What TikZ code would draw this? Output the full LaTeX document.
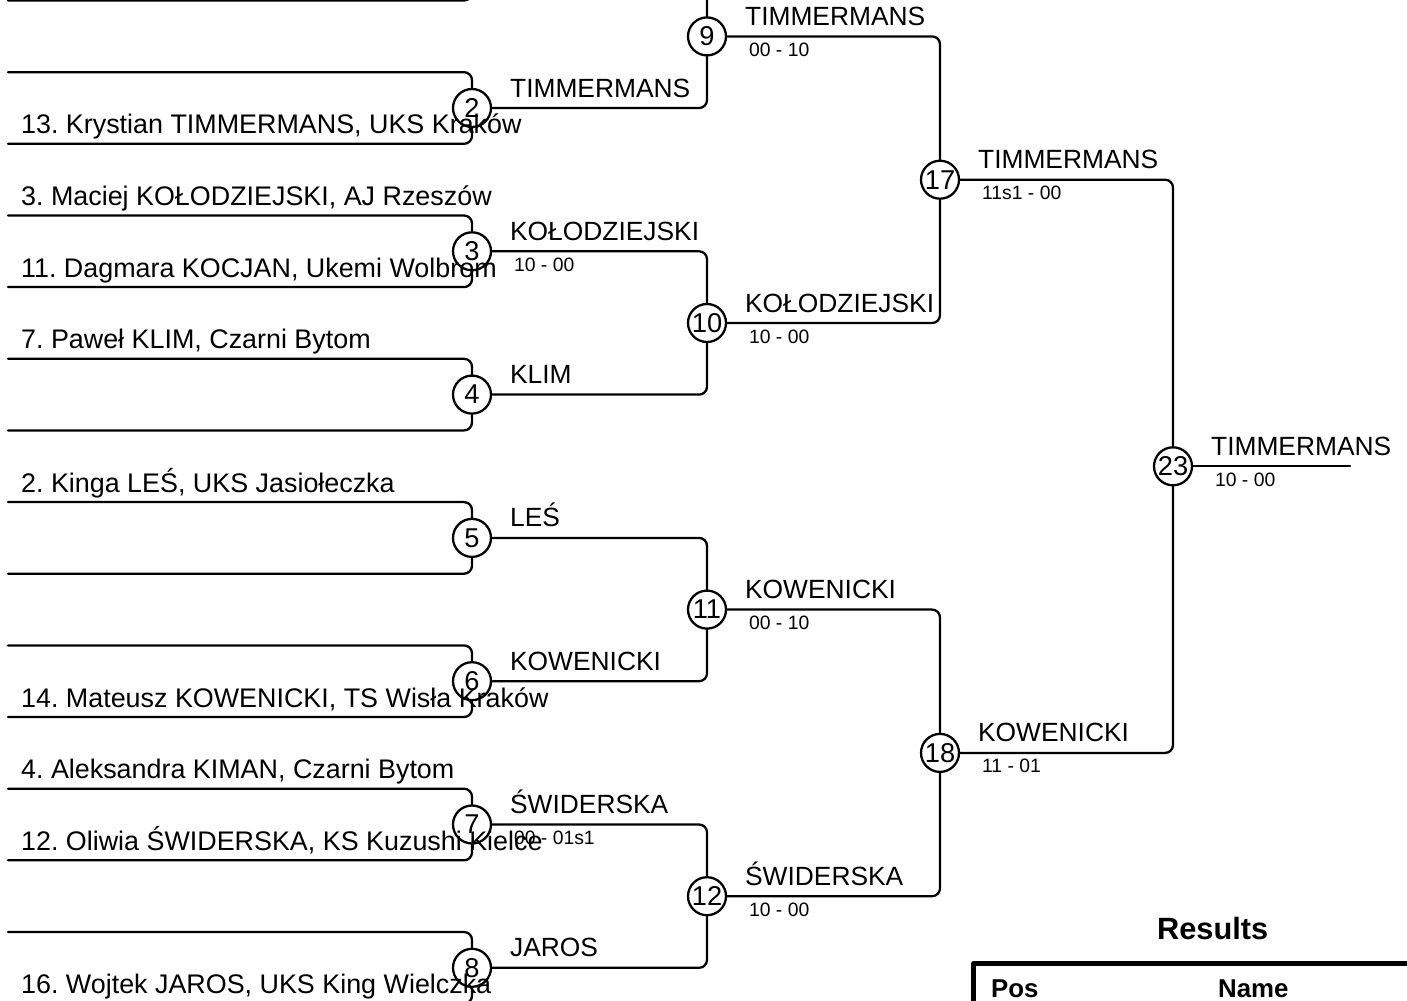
\documentclass[tikz,border=0pt]{standalone}
\usepackage{fontspec}
\setmainfont{Liberation Sans}

\begin{document}
\frenchspacing
\begin{tikzpicture}[x=0.02cm, y=-0.02cm, line width=1.3pt, line cap=round, line join=round,
  bout/.style={draw, circle, minimum size=0.76cm, inner sep=0pt, font=\fontsize{15.5}{16}\selectfont},
  wire/.style={rounded corners=4.5pt},
  player/.style={anchor=base west, inner sep=0pt, font=\fontsize{15.3}{18}\selectfont},
  winner/.style={anchor=base west, inner sep=0pt, font=\fontsize{15}{18}\selectfont},
  score/.style={anchor=base west, inner sep=0pt, font=\fontsize{11}{13}\selectfont},
  heading/.style={anchor=base west, inner sep=0pt, font=\bfseries\fontsize{17.5}{20}\selectfont},
  colhead/.style={anchor=base west, inner sep=0pt, font=\bfseries\fontsize{14.7}{17}\selectfont}]
\useasboundingbox (0,0) rectangle (1407,1001);
\clip (0,0) rectangle (1407,1001);

\coordinate (m1) at (472,-35.3);
\node[bout] (m2) at (472,108) {2};
\node[bout] (m3) at (472,251.3) {3};
\node[bout] (m4) at (472,394.6) {4};
\node[bout] (m5) at (472,537.9) {5};
\node[bout] (m6) at (472,681.2) {6};
\node[bout] (m7) at (472,824.5) {7};
\node[bout] (m8) at (472,967.8) {8};
\node[bout] (m9) at (707,36.4) {9};
\node[bout] (m10) at (707,323) {10};
\node[bout] (m11) at (707,609.6) {11};
\node[bout] (m12) at (707,896.2) {12};
\node[bout] (m17) at (940,179.7) {17};
\node[bout] (m18) at (940,752.9) {18};
\node[bout] (m23) at (1173,466.3) {23};

\coordinate (lo1) at (8,0.5);
\coordinate (hi2) at (8,72.2);
\coordinate (lo2) at (8,143.8);
\coordinate (hi3) at (8,215.5);
\coordinate (lo3) at (8,287.1);
\coordinate (hi4) at (8,358.8);
\coordinate (lo4) at (8,430.4);
\coordinate (hi5) at (8,502.1);
\coordinate (lo5) at (8,573.7);
\coordinate (hi6) at (8,645.4);
\coordinate (lo6) at (8,717);
\coordinate (hi7) at (8,788.7);
\coordinate (lo7) at (8,860.3);
\coordinate (hi8) at (8,932);
\coordinate (lo8) at (8,1003.6);
\coordinate (champ) at (1350,466.3);

\draw[wire] (lo1) -| (m1);
\draw[wire] (hi2) -| (m2.north);
\draw[wire] (lo2) -| (m2.south);
\draw[wire] (hi3) -| (m3.north);
\draw[wire] (lo3) -| (m3.south);
\draw[wire] (hi4) -| (m4.north);
\draw[wire] (lo4) -| (m4.south);
\draw[wire] (hi5) -| (m5.north);
\draw[wire] (lo5) -| (m5.south);
\draw[wire] (hi6) -| (m6.north);
\draw[wire] (lo6) -| (m6.south);
\draw[wire] (hi7) -| (m7.north);
\draw[wire] (lo7) -| (m7.south);
\draw[wire] (hi8) -| (m8.north);
\draw[wire] (lo8) -| (m8.south);

\draw[wire] (m1) -| (m9.north);
\draw[wire] (m2.east) -| (m9.south);
\draw[wire] (m3.east) -| (m10.north);
\draw[wire] (m4.east) -| (m10.south);
\draw[wire] (m5.east) -| (m11.north);
\draw[wire] (m6.east) -| (m11.south);
\draw[wire] (m7.east) -| (m12.north);
\draw[wire] (m8.east) -| (m12.south);
\draw[wire] (m9.east) -| (m17.north);
\draw[wire] (m10.east) -| (m17.south);
\draw[wire] (m11.east) -| (m18.north);
\draw[wire] (m12.east) -| (m18.south);
\draw[wire] (m17.east) -| (m23.north);
\draw[wire] (m18.east) -| (m23.south);
\draw (m23.east) -- (champ);

\node[player] (p13) at (20,133.8) {13. Krystian TIMMERMANS, UKS Kraków};
\node[player] (p3) at (20,205.5) {3. Maciej KOŁODZIEJSKI, AJ Rzeszów};
\node[player] (p11) at (20,277.1) {11. Dagmara KOCJAN, Ukemi Wolbrom};
\node[player] (p7) at (20,348.8) {7. Paweł KLIM, Czarni Bytom};
\node[player] (p2) at (20,492.1) {2. Kinga LEŚ, UKS Jasiołeczka};
\node[player] (p14) at (20,707) {14. Mateusz KOWENICKI, TS Wisła Kraków};
\node[player] (p4) at (20,778.7) {4. Aleksandra KIMAN, Czarni Bytom};
\node[player] (p12) at (20,850.3) {12. Oliwia ŚWIDERSKA, KS Kuzushi Kielce};
\node[player] (p16) at (20,993.6) {16. Wojtek JAROS, UKS King Wielczka};

\node[winner] (w2) at ([shift={(37,-11)}]m2.center) {TIMMERMANS};
\node[winner] (w3) at ([shift={(37,-11)}]m3.center) {KOŁODZIEJSKI};
\node[score] (s3) at ([shift={(41,20)}]m3.center) {10 - 00};
\node[winner] (w4) at ([shift={(37,-11)}]m4.center) {KLIM};
\node[winner] (w5) at ([shift={(37,-11)}]m5.center) {LEŚ};
\node[winner] (w6) at ([shift={(37,-11)}]m6.center) {KOWENICKI};
\node[winner] (w7) at ([shift={(37,-11)}]m7.center) {ŚWIDERSKA};
\node[score] (s7) at ([shift={(41,20)}]m7.center) {00 - 01s1};
\node[winner] (w8) at ([shift={(37,-11)}]m8.center) {JAROS};
\node[winner] (w9) at ([shift={(37,-11)}]m9.center) {TIMMERMANS};
\node[score] (s9) at ([shift={(41,20)}]m9.center) {00 - 10};
\node[winner] (w10) at ([shift={(37,-11)}]m10.center) {KOŁODZIEJSKI};
\node[score] (s10) at ([shift={(41,20)}]m10.center) {10 - 00};
\node[winner] (w11) at ([shift={(37,-11)}]m11.center) {KOWENICKI};
\node[score] (s11) at ([shift={(41,20)}]m11.center) {00 - 10};
\node[winner] (w12) at ([shift={(37,-11)}]m12.center) {ŚWIDERSKA};
\node[score] (s12) at ([shift={(41,20)}]m12.center) {10 - 00};
\node[winner] (w17) at ([shift={(37,-11)}]m17.center) {TIMMERMANS};
\node[score] (s17) at ([shift={(41,20)}]m17.center) {11s1 - 00};
\node[winner] (w18) at ([shift={(37,-11)}]m18.center) {KOWENICKI};
\node[score] (s18) at ([shift={(41,20)}]m18.center) {11 - 01};
\node[winner] (w23) at ([shift={(37,-11)}]m23.center) {TIMMERMANS};
\node[score] (s23) at ([shift={(41,20)}]m23.center) {10 - 00};

\draw[line width=2.8pt, line cap=butt] (973.5,963.5) rectangle (1450,1100);
\node[heading] (res) at (1156,939) {Results};
\node[colhead] (pos) at (990,997) {Pos};
\node[colhead] (nam) at (1217,997) {Name};
\end{tikzpicture}
\end{document}
